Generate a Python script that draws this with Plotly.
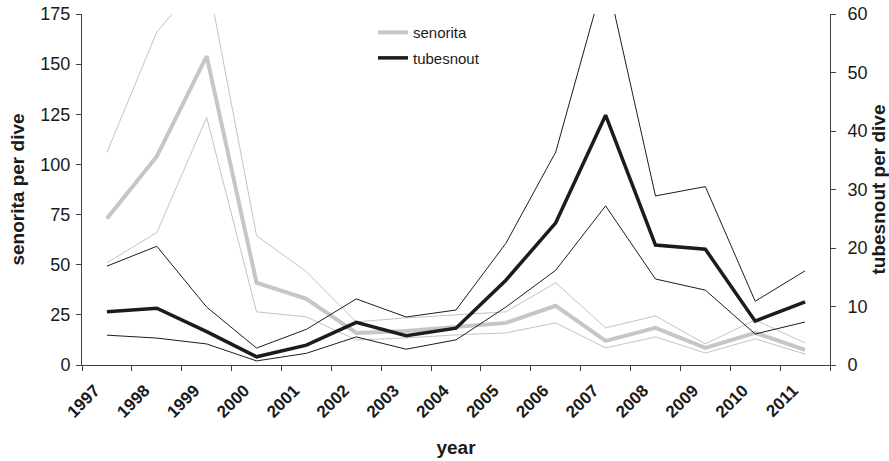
import plotly.graph_objects as go

years = [str(y) for y in range(1997, 2012)]

senorita_mean = [73, 104, 154, 41, 33, 16, 17, 19, 21, 29.5, 12, 18.5, 8.5, 16, 7.5]
senorita_upper = [106, 166, 195, 64.5, 46.5, 21.5, 23.5, 25, 26.5, 41, 18.5, 24.5, 10.5, 22.5, 11]
senorita_lower = [51, 66, 123.5, 26.5, 24, 12.5, 13.5, 15, 16, 21, 8.5, 14, 6, 13, 5.5]

tubesnout_mean = [9.1, 9.7, 5.7, 1.4, 3.4, 7.3, 5.0, 6.3, 14.5, 24.3, 42.7, 20.5, 19.8, 7.5, 10.8]
tubesnout_upper = [16.9, 20.3, 9.9, 2.9, 6.1, 11.3, 8.2, 9.4, 20.8, 36.4, 67, 28.9, 30.5, 10.9, 16.1]
tubesnout_lower = [5.1, 4.6, 3.6, 0.7, 2.0, 4.8, 2.7, 4.3, 9.9, 16.2, 27.2, 14.7, 12.8, 5.3, 7.35]

GRAY = "#c6c6c6"
GRAY_THIN = "#c4c4c4"
BLACK = "#1c1c1c"
AXIS = "#404040"
TXT = "#1a1a1a"
FONT = "Liberation Sans, Arial, sans-serif"

fig = go.Figure()

fig.add_trace(go.Scatter(x=years, y=senorita_upper, mode="lines", yaxis="y",
                         line=dict(color=GRAY_THIN, width=1), showlegend=False, hoverinfo="skip"))
fig.add_trace(go.Scatter(x=years, y=senorita_lower, mode="lines", yaxis="y",
                         line=dict(color=GRAY_THIN, width=1), showlegend=False, hoverinfo="skip"))
fig.add_trace(go.Scatter(x=years, y=senorita_mean, mode="lines", yaxis="y", name="senorita",
                         legendgroup="a", line=dict(color=GRAY, width=4)))

fig.add_trace(go.Scatter(x=years, y=tubesnout_upper, mode="lines", yaxis="y2",
                         line=dict(color=BLACK, width=1), showlegend=False, hoverinfo="skip"))
fig.add_trace(go.Scatter(x=years, y=tubesnout_lower, mode="lines", yaxis="y2",
                         line=dict(color=BLACK, width=1), showlegend=False, hoverinfo="skip"))
fig.add_trace(go.Scatter(x=years, y=tubesnout_mean, mode="lines", yaxis="y2", name="tubesnout",
                         legendgroup="b", line=dict(color=BLACK, width=3.5)))

fig.update_layout(
    width=889, height=461,
    margin=dict(l=82, r=59, t=14, b=96, autoexpand=False),
    paper_bgcolor="white", plot_bgcolor="white",
    font=dict(family=FONT, size=18, color=TXT),
    legend=dict(x=0.389, y=0.994, xanchor="left", yanchor="top",
                bgcolor="rgba(0,0,0,0)", font=dict(size=15, color=TXT),
                tracegroupgap=3, traceorder="grouped"),
    xaxis=dict(type="category", tickson="boundaries", ticks="outside", ticklen=5,
               range=[-0.5, 14.5], automargin=False,
               tickcolor=AXIS, showline=True, linecolor=AXIS, linewidth=1,
               showgrid=False, zeroline=False, tickangle=-45,
               ticklabelstandoff=8, ticklabelshift=-12,
               tickfont=dict(size=17, family=FONT, color=TXT, weight="bold"),
               title=dict(text="<b>year</b>", font=dict(size=19), standoff=20)),
    yaxis=dict(range=[0, 175], tickvals=[0, 25, 50, 75, 100, 125, 150, 175],
               automargin=False, ticklabelstandoff=2,
               ticks="outside", ticklen=5, tickcolor=AXIS, showline=True,
               linecolor=AXIS, linewidth=1, showgrid=False, zeroline=False,
               tickfont=dict(size=18),
               title=dict(text="<b>senorita per dive</b>", font=dict(size=19), standoff=10)),
    yaxis2=dict(range=[0, 60], tickvals=[0, 10, 20, 30, 40, 50, 60], overlaying="y",
                automargin=False, ticklabelstandoff=8,
                side="right", ticks="outside", ticklen=5, tickcolor=AXIS, showline=True,
                linecolor=AXIS, linewidth=1, showgrid=False, zeroline=False,
                tickfont=dict(size=18),
                title=dict(text="<b>tubesnout per dive</b>", font=dict(size=19), standoff=0)),
)

fig.write_html("out.html", config={"displayModeBar": False},
               post_script="document.body.style.margin='0px';document.body.style.overflow='hidden';")
